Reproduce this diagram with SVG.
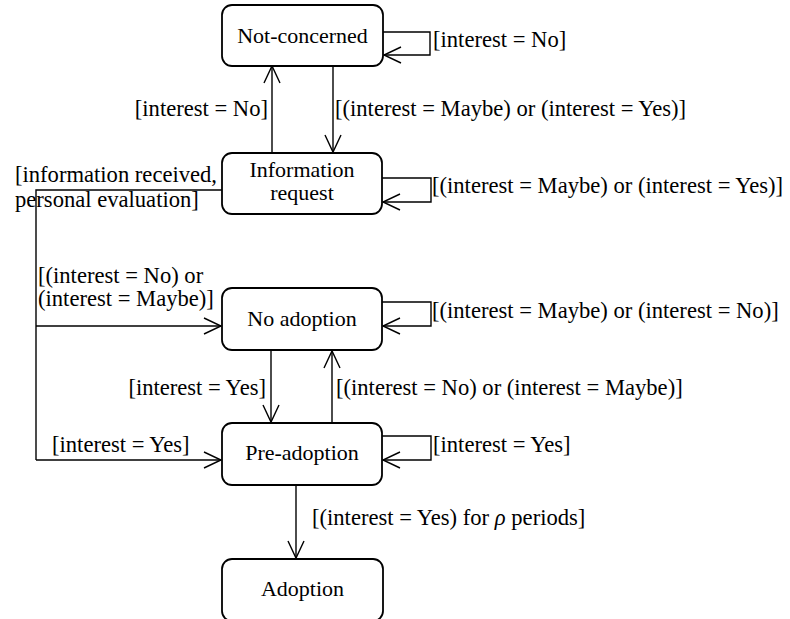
<svg xmlns="http://www.w3.org/2000/svg" width="790" height="619" viewBox="0 0 790 619">
<style>
.box{fill:#fff;stroke:#000;stroke-width:1.8}
.t{font-family:'Liberation Serif','Tinos','Times New Roman','DejaVu Serif',serif;font-size:22.6px;fill:#000}
.n{font-size:22px}
.c{text-anchor:middle}
.e{text-anchor:end}
.ln{fill:none;stroke:#000;stroke-width:1.4;marker-end:url(#ah)}
.pl{fill:none;stroke:#000;stroke-width:1.4}
</style>
<defs>
<marker id="ah" viewBox="-19 -10 21 20" refX="0" refY="0" markerWidth="21" markerHeight="20" markerUnits="userSpaceOnUse" orient="auto">
<path d="M-17,-8 L0,0 L-17,8" fill="none" stroke="#000" stroke-width="1.4"/>
</marker>
</defs>
<rect width="790" height="619" fill="#fff"/>
<g id="connectors">
<path class="ln" d="M272,153 V66"/>
<path class="ln" d="M333,66 V152"/>
<path class="ln" d="M383,32 H430 V55 H384"/>
<path class="ln" d="M382,178 H431 V202 H383"/>
<path class="ln" d="M382,302 H431 V326 H383"/>
<path class="ln" d="M382,436 H431 V460 H383"/>
<path class="pl" d="M222,190 H36 V460"/>
<path class="ln" d="M36,460 H221"/>
<path class="ln" d="M36,326 H221"/>
<path class="ln" d="M271,350 V422"/>
<path class="ln" d="M332,423 V351"/>
<path class="ln" d="M296,485 V558"/>
<text class="t" x="433" y="47">[interest = No]</text>
<text class="t e" x="268" y="116">[interest = No]</text>
<text class="t" x="335" y="116">[(interest = Maybe) or (interest = Yes)]</text>
<text class="t" x="432" y="193">[(interest = Maybe) or (interest = Yes)]</text>
<text class="t" x="15" y="182">[information received,</text>
<text class="t" x="15" y="207">personal evaluation]</text>
<text class="t" x="38" y="283">[(interest = No) or</text>
<text class="t" x="38" y="306">(interest = Maybe)]</text>
<text class="t" x="432" y="318">[(interest = Maybe) or (interest = No)]</text>
<text class="t e" x="266" y="395">[interest = Yes]</text>
<text class="t" x="336" y="395">[(interest = No) or (interest = Maybe)]</text>
<text class="t" x="52" y="452">[interest = Yes]</text>
<text class="t" x="433" y="452">[interest = Yes]</text>
<text class="t" x="312" y="525">[(interest = Yes) for <tspan font-style="italic">ρ</tspan> periods]</text>
</g>
<g id="not-concerned">
<rect class="box" x="222" y="5" width="161" height="61" rx="10"/>
<text class="t n c" x="302.5" y="43">Not-concerned</text>
</g>
<g id="information-request">
<rect class="box" x="222" y="153" width="160" height="61" rx="10"/>
<text class="t n c" x="302" y="177">Information</text>
<text class="t n c" x="302" y="200">request</text>
</g>
<g id="no-adoption">
<rect class="box" x="222" y="288" width="160" height="62" rx="10"/>
<text class="t n c" x="302" y="326">No adoption</text>
</g>
<g id="pre-adoption">
<rect class="box" x="222" y="423" width="160" height="62" rx="10"/>
<text class="t n c" x="302" y="460">Pre-adoption</text>
</g>
<g id="adoption">
<rect class="box" x="222" y="559" width="161" height="62" rx="10"/>
<text class="t n c" x="302.5" y="596">Adoption</text>
</g>
</svg>
